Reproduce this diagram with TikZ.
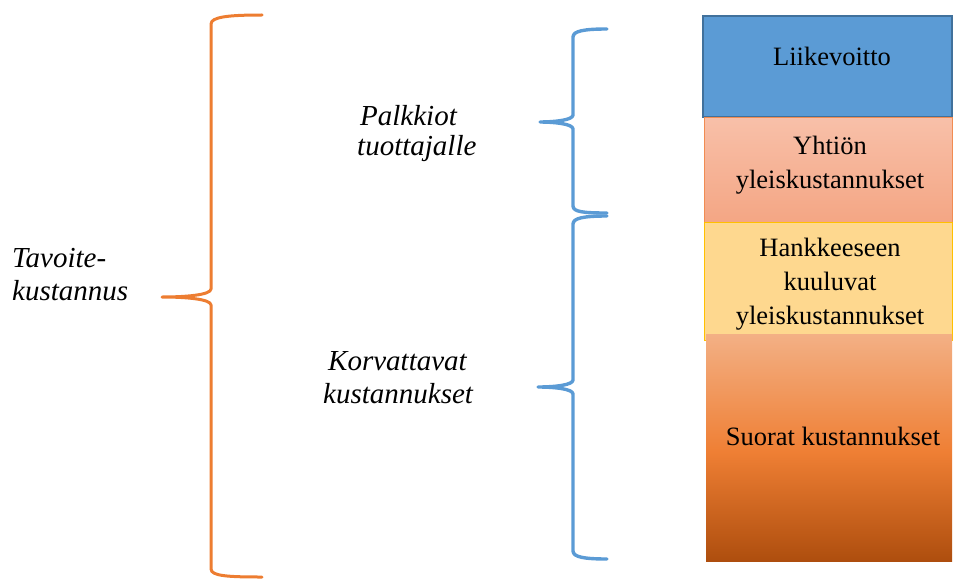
\documentclass[tikz,border=0pt]{standalone}
\usepackage{fontspec}
\setmainfont{Liberation Serif}
\definecolor{sbot}{RGB}{174,78,14}
\definecolor{smid}{RGB}{239,127,52}
\definecolor{stopc}{RGB}{243,176,133}
\pgfdeclareverticalshading{suorat}{100bp}{color(0bp)=(sbot); color(25bp)=(sbot); color(49bp)=(smid); color(75bp)=(stopc); color(100bp)=(stopc)}
\begin{document}
\begin{tikzpicture}[x=1pt,y=-1pt,
  lbl/.style={font=\fontsize{29}{33}\selectfont\itshape, inner sep=0pt, anchor=base west, align=left},
  boxtxt/.style={font=\fontsize{26.5}{34}\selectfont, inner sep=0pt, align=center, anchor=base},
  obrace/.style={draw=orange1, line width=3pt, line cap=round, line join=round},
  bbrace/.style={draw=blue1, line width=3.4pt, line cap=round, line join=round}]
\definecolor{orange1}{HTML}{ED7D31}
\definecolor{blue1}{HTML}{5B9BD5}
\definecolor{blueline}{HTML}{41719C}
\useasboundingbox (0,0) rectangle (955,578);
% boxes
\path[fill=blue1, draw=blueline, line width=1.5pt] (703,16) rectangle (952,117);
\path[top color={rgb,255:red,248;green,192;blue,169}, bottom color={rgb,255:red,244;green,166;blue,132}, draw={rgb,255:red,241;green,140;blue,82}, line width=0.8pt] (704,117) rectangle (952,222);
\path[fill={rgb,255:red,254;green,216;blue,143}, draw={rgb,255:red,255;green,192;blue,0}, line width=1pt] (704,222) rectangle (952,340);
\path[shading=suorat] (706,334) rectangle (952,561);
% box texts (base = last line)
\node[boxtxt] (liike) at (832,66) {Liikevoitto};
\node[boxtxt] (yht) at (830,188) {Yhtiön\\yleiskustannukset};
\node[boxtxt] (hank) at (830,324) {Hankkeeseen\\kuuluvat\\yleiskustannukset};
\node[boxtxt] (suor) at (833,445) {Suorat kustannukset};
% labels
\node[lbl] (tav) at (12,300) {Tavoite-\\kustannus};
\node[lbl, font=\fontsize{29}{30}\selectfont\itshape] (palk) at (360,155) {Palkkiot\\\hspace*{-3pt}tuottajalle};
\node[lbl] (korv) at (328,403) {Korvattavat\\\hspace*{-5pt}kustannukset};
% orange brace
\draw[obrace] (262,15) .. controls (228,15) and (211,17) .. (211,24)
  -- (211,289) .. controls (211,295) and (185,297) .. (162,297)
  .. controls (185,297) and (211,299) .. (211,305)
  -- (211,569) .. controls (211,576) and (228,577) .. (262,577);
% blue brace 1
\draw[bbrace] (607,29) .. controls (584,29) and (573,31) .. (573,37)
  -- (573,115) .. controls (573,120) and (555,122) .. (540,122)
  .. controls (555,122) and (573,124) .. (573,129)
  -- (573,206) .. controls (573,212) and (584,213) .. (607,213);
% blue brace 2
\draw[bbrace] (607,216) .. controls (584,216) and (573,218) .. (573,224)
  -- (573,380) .. controls (573,385) and (555,387) .. (538,387)
  .. controls (555,387) and (573,389) .. (573,394)
  -- (573,551) .. controls (573,557) and (584,559) .. (607,559);
\end{tikzpicture}
\end{document}
